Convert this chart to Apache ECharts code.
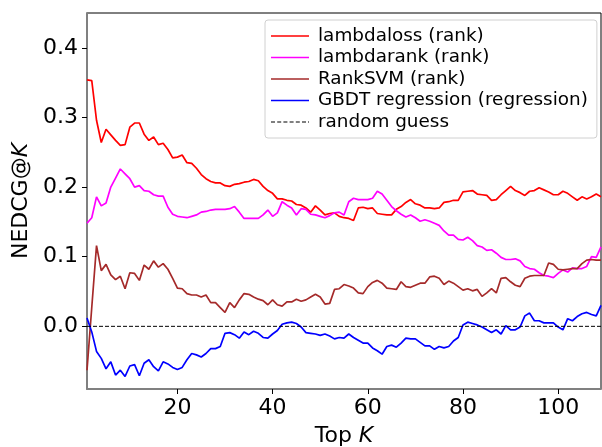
<!DOCTYPE html>
<html>
<head>
<meta charset="utf-8">
<script src="https://cdn.jsdelivr.net/npm/echarts@6/dist/echarts.min.js"></script>
<style>
html,body{margin:0;padding:0;background:#fff;}
#chart{width:602px;height:447px;}
</style>
</head>
<body>
<div id="chart"></div>
<script>
const seriesNames = ['lambdaloss (rank)', 'lambdarank (rank)', 'RankSVM (rank)', 'GBDT regression (regression)', 'random guess'];
const xTicks = [20, 40, 60, 80, 100];
const yTicks = [0.0, 0.1, 0.2, 0.3, 0.4];
const randomGuess = [[1, 0], [109, 0]];

const lambdaloss = [0.354,0.353,0.296,0.264,0.283,0.275,0.267,0.260,0.261,0.286,
0.292,0.292,0.276,0.267,0.272,0.261,0.263,0.254,0.242,0.243,
0.246,0.235,0.234,0.227,0.218,0.212,0.208,0.206,0.206,0.202,
0.201,0.204,0.205,0.207,0.208,0.211,0.209,0.201,0.195,0.191,
0.183,0.183,0.181,0.180,0.175,0.174,0.170,0.164,0.173,0.167,
0.160,0.162,0.163,0.158,0.156,0.155,0.152,0.170,0.171,0.169,
0.170,0.162,0.161,0.160,0.160,0.168,0.172,0.178,0.182,0.176,
0.174,0.170,0.170,0.169,0.170,0.178,0.179,0.181,0.181,0.193,
0.194,0.195,0.190,0.189,0.188,0.181,0.182,0.189,0.195,0.201,
0.195,0.192,0.188,0.194,0.195,0.199,0.196,0.193,0.189,0.189,
0.194,0.191,0.186,0.181,0.186,0.183,0.186,0.190,0.186];

const lambdarank = [0.148,0.156,0.186,0.173,0.177,0.200,0.213,0.226,0.219,0.212,
0.200,0.202,0.195,0.194,0.189,0.187,0.187,0.171,0.161,0.158,
0.157,0.156,0.158,0.160,0.164,0.165,0.167,0.168,0.168,0.168,
0.169,0.172,0.164,0.155,0.155,0.155,0.155,0.160,0.167,0.158,
0.163,0.179,0.174,0.170,0.160,0.169,0.168,0.161,0.160,0.158,
0.156,0.159,0.163,0.164,0.160,0.179,0.184,0.182,0.182,0.182,
0.184,0.194,0.190,0.181,0.172,0.166,0.161,0.157,0.160,0.156,
0.151,0.153,0.151,0.148,0.145,0.137,0.131,0.131,0.125,0.124,
0.128,0.123,0.116,0.114,0.109,0.110,0.105,0.099,0.096,0.096,
0.097,0.094,0.086,0.083,0.082,0.077,0.073,0.072,0.070,0.076,
0.081,0.078,0.084,0.083,0.083,0.086,0.100,0.099,0.114];

const rankSVM = [-0.063,0.027,0.116,0.080,0.089,0.074,0.067,0.072,0.054,0.077,
0.076,0.066,0.088,0.082,0.094,0.085,0.090,0.082,0.069,0.055,
0.054,0.047,0.045,0.045,0.042,0.045,0.034,0.034,0.027,0.020,
0.034,0.027,0.038,0.047,0.046,0.042,0.039,0.037,0.031,0.038,
0.031,0.029,0.035,0.035,0.039,0.036,0.038,0.042,0.046,0.042,
0.032,0.033,0.053,0.054,0.060,0.058,0.055,0.048,0.047,0.057,
0.063,0.066,0.062,0.055,0.054,0.053,0.064,0.057,0.056,0.059,
0.062,0.062,0.071,0.072,0.069,0.060,0.065,0.062,0.057,0.052,
0.054,0.051,0.053,0.043,0.048,0.054,0.048,0.069,0.070,0.064,
0.059,0.057,0.069,0.072,0.073,0.073,0.073,0.091,0.089,0.082,
0.081,0.082,0.083,0.083,0.090,0.095,0.096,0.095,0.095];

const gbdt = [0.012,-0.008,-0.036,-0.046,-0.061,-0.051,-0.070,-0.063,-0.072,-0.057,
-0.055,-0.071,-0.053,-0.048,-0.058,-0.064,-0.051,-0.054,-0.059,-0.062,
-0.059,-0.048,-0.039,-0.041,-0.044,-0.039,-0.032,-0.032,-0.029,-0.010,
-0.009,-0.012,-0.017,-0.008,-0.012,-0.007,-0.010,-0.016,-0.017,-0.011,
-0.006,0.003,0.005,0.006,0.004,-0.001,-0.009,-0.010,-0.011,-0.013,
-0.011,-0.014,-0.018,-0.016,-0.017,-0.011,-0.016,-0.020,-0.024,-0.024,
-0.031,-0.035,-0.040,-0.029,-0.027,-0.030,-0.024,-0.017,-0.018,-0.018,
-0.023,-0.028,-0.028,-0.033,-0.029,-0.031,-0.029,-0.021,-0.016,0.002,
0.006,0.004,0.002,-0.001,-0.005,-0.009,-0.005,-0.011,0.001,-0.005,
-0.005,-0.001,0.015,0.019,0.008,0.008,0.005,0.005,0.005,-0.001,
-0.005,0.011,0.008,0.014,0.018,0.020,0.017,0.015,0.030];

const colors = ['#ff0000', '#ff00ff', '#a52a2a', '#0000ff', '#000000'];
const FONT = 'DejaVu Sans';
const solidIcon = 'path://M0,0h38v1.6h-38z';
const dashIcon = 'path://M0,0h4v1h-4zM6.2,0h4v1h-4zM12.4,0h4v1h-4zM18.6,0h4v1h-4zM24.8,0h4v1h-4zM31,0h4v1h-4zM37,0h1v1h-1z';

function pairs(arr) { return arr.map((v, i) => [i + 1, v]); }

const chart = echarts.init(document.getElementById('chart'), null, {renderer: 'canvas'});
const lineSeries = [lambdaloss, lambdarank, rankSVM, gbdt].map((arr, i) => ({
  name: seriesNames[i],
  type: 'line',
  data: pairs(arr),
  symbol: 'none',
  showSymbol: false,
  animation: false,
  lineStyle: {color: colors[i], width: 1.7},
  itemStyle: {color: colors[i]},
  z: 2 + i
}));
lineSeries.push({
  name: seriesNames[4],
  type: 'line',
  data: randomGuess,
  symbol: 'none',
  showSymbol: false,
  animation: false,
  lineStyle: {color: '#000', width: 1, type: [4, 2]},
  itemStyle: {color: '#000'},
  z: 7
});

chart.setOption({
  animation: false,
  backgroundColor: '#fff',
  grid: {left: 87, right: 1, top: 13, bottom: 58, containLabel: false, outerBoundsMode: 'none',
         show: true, borderColor: '#000', borderWidth: 1, backgroundColor: 'transparent'},
  legend: {
    orient: 'vertical',
    left: 265, top: 20,
    padding: [6, 9, 6, 6],
    itemWidth: 38, itemHeight: 14, itemGap: 1.5,
    symbolKeepAspect: true,
    borderColor: '#d0d0d0', borderWidth: 1, borderRadius: 3,
    backgroundColor: 'rgba(255,255,255,0.8)',
    data: seriesNames.map((n, i) => ({name: n, icon: i === 4 ? dashIcon : solidIcon, itemStyle: {color: colors[i], borderWidth: 0}})),
    textStyle: {fontFamily: FONT, fontSize: 18.4, color: '#000', lineHeight: 20, padding: [0, 0, 0, 4]}
  },
  xAxis: {
    type: 'value', min: 1, max: 109,
    name: 'Top {i|K}', nameLocation: 'middle', nameGap: 36,
    nameTextStyle: {fontFamily: FONT, fontSize: 22, color: '#000', rich: {i: {fontFamily: FONT, fontSize: 22, fontStyle: 'italic', color: '#000'}}},
    axisLine: {show: true, onZero: false, lineStyle: {color: '#808080', width: 2}},
    axisTick: {show: true, length: 5, customValues: xTicks, lineStyle: {color: '#000', width: 1}},
    axisLabel: {customValues: xTicks, fontFamily: FONT, fontSize: 22, color: '#000', margin: 8},
    splitLine: {show: false}
  },
  yAxis: {
    type: 'value', min: -0.09, max: 0.45,
    name: 'NEDCG@{i|K}', nameLocation: 'middle', nameGap: 43,
    nameTextStyle: {fontFamily: FONT, fontSize: 22, color: '#000', rich: {i: {fontFamily: FONT, fontSize: 22, fontStyle: 'italic', color: '#000'}}},
    axisLine: {show: true, onZero: false, lineStyle: {color: '#808080', width: 2}},
    axisTick: {show: true, length: 5, customValues: yTicks, lineStyle: {color: '#000', width: 1}},
    axisLabel: {customValues: yTicks, fontFamily: FONT, fontSize: 22, color: '#000', margin: 9, formatter: v => v.toFixed(1)},
    splitLine: {show: false}
  },
  series: lineSeries
});
</script>
</body>
</html>
